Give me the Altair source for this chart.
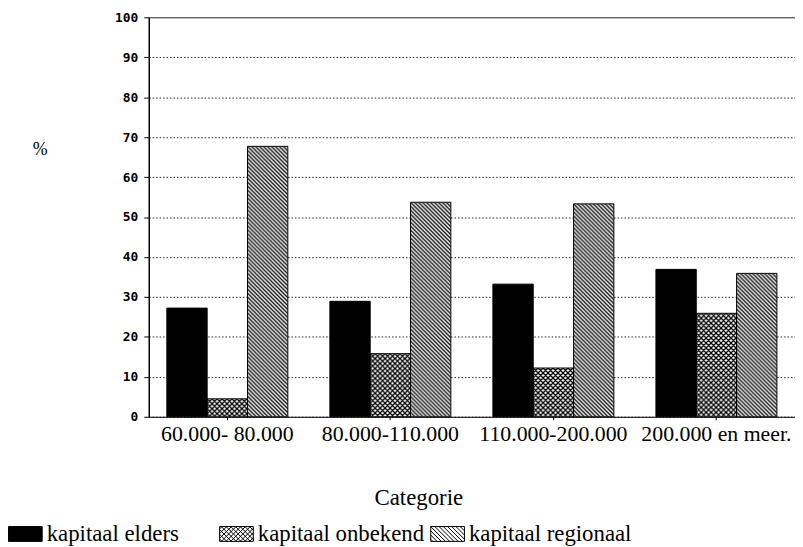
import base64
import altair as alt
import pandas as pd

# ---- data ----
categories = ["60.000- 80.000", "80.000-110.000", "110.000-200.000", "200.000 en meer."]
series = ["kapitaal elders", "kapitaal onbekend", "kapitaal regionaal"]
elders = [27.2, 28.9, 33.2, 36.9]
onbekend = [4.5, 15.8, 12.2, 25.9]
regionaal = [67.7, 53.7, 53.3, 35.9]
y_ticks = [0, 10, 20, 30, 40, 50, 60, 70, 80, 90, 100]

rows = []
for i, c in enumerate(categories):
    for s, vals in zip(series, [elders, onbekend, regionaal]):
        rows.append({"categorie": c, "serie": s, "waarde": vals[i]})
df = pd.DataFrame(rows)


# ---- fill patterns (style only) ----
def pattern_uri(t, cross, sw):
    d = f"M-1,-1L{t+1},{t+1}M-1,{t-1}L1,{t+1}M{t-1},-1L{t+1},1"
    if cross:
        d += f"M-1,{t+1}L{t+1},-1M-1,1L1,-1M{t-1},{t+1}L{t+1},{t-1}"
    svg = ("<svg xmlns='http://www.w3.org/2000/svg' width='100%' height='100%'>"
           f"<defs><pattern id='p' x='0' y='0' width='{t}' height='{t}' patternUnits='userSpaceOnUse'>"
           f"<path d='{d}' stroke='black' stroke-width='{sw}' fill='none'/></pattern></defs>"
           "<rect width='100%' height='100%' fill='white'/>"
           "<rect width='100%' height='100%' fill='url(#p)'/></svg>")
    return "data:image/svg+xml;base64," + base64.b64encode(svg.encode()).decode()


uri_cross = pattern_uri(5, True, 1.3)
uri_diag = pattern_uri(4, False, 1.3)


def swatch_path(kind, step):
    h = 0.44
    parts = [f"M-1,{-h}L1,{-h}L1,{h}L-1,{h}Z"]
    if kind in ("diag", "cross"):
        c = -1 - h + step / 2
        while c < 1 + h:
            x0, x1 = max(-1, c - h), min(1, c + h)
            if x1 > x0:
                parts.append(f"M{x0:.3f},{x0 - c:.3f}L{x1:.3f},{x1 - c:.3f}")
            c += step
    if kind == "cross":
        c = -1 - h + step / 2
        while c < 1 + h:
            x0, x1 = max(-1, c - h), min(1, c + h)
            if x1 > x0:
                parts.append(f"M{x0:.3f},{c - x0:.3f}L{x1:.3f},{c - x1:.3f}")
            c += step
    return "".join(parts)


shapes = [swatch_path("solid", 0.3), swatch_path("cross", 0.28), swatch_path("diag", 0.25)]

serif = "Liberation Serif"

x_enc = alt.X(
    "categorie:N",
    sort=categories,
    scale=alt.Scale(domain=categories, paddingInner=0.258, paddingOuter=0.111),
    axis=alt.Axis(
        title="Categorie", labelAngle=0, labelFont=serif, labelFontSize=22,
        labelColor="black", labelPadding=4, labelLimit=300, tickSize=3,
        tickColor="black", domainColor="black", domainWidth=1, grid=False,
        titleFont=serif, titleFontSize=23, titleFontWeight="normal",
        titleColor="black", titleX=272, titleY=82, titleBaseline="middle",
        titleAlign="center",
    ),
)
xo_enc = alt.XOffset("serie:N", sort=series,
                     scale=alt.Scale(domain=series, paddingInner=0, paddingOuter=0))
y_enc = alt.Y(
    "waarde:Q",
    scale=alt.Scale(domain=[0, 100], nice=False),
    axis=alt.Axis(
        title="%", values=y_ticks, labelFont="DejaVu Sans Mono",
        labelFontWeight="bold", labelFontSize=13, labelColor="black",
        labelPadding=6, tickSize=5, tickColor="black", domainColor="black",
        domainWidth=1.5, grid=True, gridColor="#222", gridWidth=1,
        gridDash={"condition": {"test": "datum.value == 100", "value": []},
                  "value": [1.5, 2]},
        titleAngle=0, titleX=-110, titleY=133, titleFont=serif,
        titleFontSize=18, titleFontWeight="normal", titleColor="#000000",
        titleBaseline="middle", titleAlign="center",
    ),
)

base = alt.Chart(df).encode(x=x_enc, xOffset=xo_enc, y=y_enc)

bars = base.mark_bar(strokeWidth=0).encode(
    fill=alt.condition(alt.datum.serie == series[0], alt.value("black"), alt.value("white"))
)

images = base.transform_filter(alt.datum.serie != series[0]).transform_calculate(
    url=f"datum.serie == '{series[1]}' ? '{uri_cross}' : '{uri_diag}'"
).mark_image(aspect=False).encode(url="url:N", y2=alt.datum(0))

outlines = base.mark_bar(fill="transparent", stroke="black", strokeWidth=1)

legend = alt.Legend(
    title=None, orient="none", legendX=-142, legendY=503.5, direction="horizontal",
    columns=3, gridAlign="all", columnPadding=4, symbolSize=1156,
    symbolStrokeWidth=1, symbolOpacity=1,
    labelFont=serif, labelFontSize=23, labelColor="black", labelOffset=4,
    labelLimit=400, padding=0,
)

points = base.mark_point(filled=True, opacity=0).encode(
    fill=alt.Fill("serie:N", scale=alt.Scale(domain=series, range=["black", "white", "white"]), legend=legend),
    stroke=alt.Stroke("serie:N", scale=alt.Scale(domain=series, range=["black", "black", "black"]), legend=legend),
    shape=alt.Shape("serie:N", scale=alt.Scale(domain=series, range=shapes), legend=legend),
)

chart = alt.layer(bars, images, outlines, points).properties(
    width=652,
    height=403,
    autosize=alt.AutoSizeParams(type="none"),
    padding={"left": 142, "top": 7, "right": 0, "bottom": 129},
    background="white",
).configure_view(stroke="transparent")

chart.save("out.html", embed_options={"renderer": "svg", "actions": False})
